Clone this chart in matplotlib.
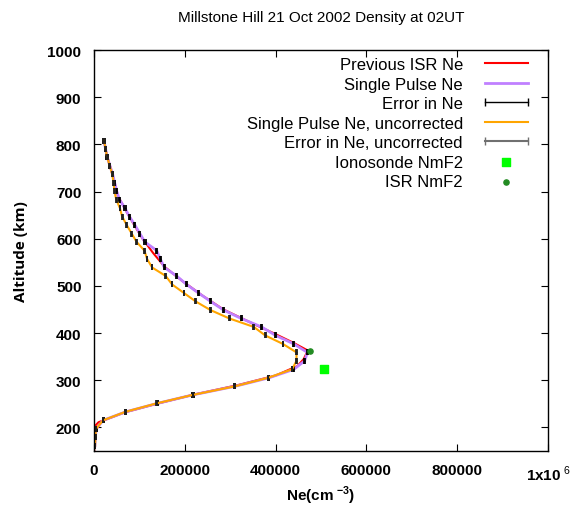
import matplotlib
matplotlib.use('Agg')
from matplotlib import pyplot as plt
from matplotlib.lines import Line2D

plt.rcParams['font.family'] = ['Liberation Sans', 'DejaVu Sans']
plt.rcParams['mathtext.fontset'] = 'custom'
plt.rcParams['mathtext.rm'] = 'Liberation Sans'
plt.rcParams['mathtext.bf'] = 'Liberation Sans:bold'

# Previous ISR Ne profile
isr_alt = [810, 780, 750, 720, 690, 660, 630, 600, 570, 540, 510, 480, 450, 420,
           400, 380, 363, 345, 330, 310, 290, 270, 250, 232, 218, 211, 205, 195, 180, 150]
isr_ne = [22000, 27500, 36500, 45000, 53000, 70000, 88000, 107000, 130000, 156000,
          195000, 238000, 285000, 350000, 395000, 438000, 471000, 462000, 448000, 400000,
          318000, 222000, 138000, 68000, 30000, 10000, 4000, 1000, 500, 500]

# Single pulse profiles
sp_alt = [808, 790, 773, 755, 737, 719, 701, 683, 665, 647, 629, 611, 593, 575, 557,
          539, 521, 503, 485, 467, 449, 431, 413, 395, 377, 359, 341, 323, 305, 287,
          269, 251, 233, 215, 197, 179, 161]
sp_ne = [22000, 25500, 29000, 35000, 41000, 45500, 50000, 56000, 68000, 78000, 90000,
         101000, 112000, 138000, 146000, 155000, 182000, 204000, 230000, 257000, 285000,
         324000, 369000, 400000, 440000, 470000, 464000, 440000, 385000, 310000, 218000,
         140000, 70000, 20000, 5000, 3000, 2000]
sp_err = [2000, 1500, 1500, 1200, 1200, 1500, 1200, 1200, 1500, 1200, 1200, 1200, 1500,
          1500, 1200, 1500, 1500, 1200, 1200, 1200, 1200, 1200, 1500, 1200, 1500, 1500,
          1500, 1500, 1200, 1200, 1200, 1200, 1200, 1000, 1000, 1000, 1000]

sp_unc_ne = [22000, 25500, 29000, 34500, 40000, 43000, 45000, 49000, 57000, 62000, 72000,
             83000, 94000, 111000, 117000, 128000, 158000, 172000, 198000, 224000, 256000,
             298000, 352000, 377000, 416000, 446000, 446000, 436000, 383000, 310000, 218000,
             138000, 69000, 20000, 4500, 3000, 2500]
sp_unc_err = [1500, 1000, 1000, 800, 800, 800, 800, 800, 800, 800, 800, 800,
              800, 800, 800, 800, 800, 800, 800, 800, 800, 800, 800, 800,
              800, 800, 800, 800, 800, 800, 800, 800, 800, 600, 600, 600, 600]

# NmF2 points
iono_ne, iono_alt = [507000], [324]
isr_nm_ne, isr_nm_alt = [476000], [363]

xticks = [0, 200000, 400000, 600000, 800000, 1000000]
xticklabels = ['0', '200000', '400000', '600000', '800000', r'1x10$^{\ 6}$']
yticks = [200, 300, 400, 500, 600, 700, 800, 900, 1000]

red = '#ff0000'
purple = '#c080ff'
orange = '#ffa500'
grey = '#707070'

fig = plt.figure(figsize=(5.76, 5.06), dpi=100)
ax = fig.add_axes([94 / 576, 1 - 452 / 506, 454 / 576, 401 / 506])

ax.plot(isr_ne, isr_alt, color=red, lw=1.5)
ax.plot(sp_ne, sp_alt, color=purple, lw=2)
ax.errorbar(sp_ne, sp_alt, xerr=sp_err, fmt='none', ecolor='black', elinewidth=1,
            capsize=2.5, capthick=1.3)
ax.plot(sp_unc_ne, sp_alt, color=orange, lw=1.5)
ax.errorbar(sp_unc_ne, sp_alt, xerr=sp_unc_err, fmt='none', ecolor='#202020', elinewidth=1,
            capsize=2.5, capthick=1.3)
iono = ax.scatter(iono_ne, iono_alt, marker='s', s=30, color='#00ff00', zorder=5)
isrpt = ax.scatter(isr_nm_ne, isr_nm_alt, marker='o', s=14, color='#228b22', zorder=5)

ax.set_xlim(0, 1000000)
ax.set_ylim(150, 1000)
ax.set_xticks(xticks)
ax.set_xticklabels(xticklabels)
ax.set_yticks(yticks)
ax.tick_params(direction='in', length=5, width=0.8, top=True, right=True,
               labelsize=11, pad=9)
for lab in ax.get_xticklabels() + ax.get_yticklabels():
    lab.set_fontweight('bold')
for s in ax.spines.values():
    s.set_linewidth(1)

ax.set_title('Millstone Hill 21 Oct 2002 Density at 02UT', fontsize=11, pad=21)
ax.set_xlabel(r'Ne(cm$^{\ \mathbf{-3}}$)', fontsize=11, fontweight='bold', labelpad=1)
ax.set_ylabel('Altitude (km)', fontsize=11, fontweight='bold', labelpad=14,
              family=['Open Sans', 'DejaVu Sans'])

handles = [
    Line2D([], [], color=red, lw=1.5),
    Line2D([], [], color=purple, lw=2),
    Line2D([], [], color='black', lw=1, marker='|', markersize=6, markeredgewidth=1),
    Line2D([], [], color=orange, lw=1.5),
    Line2D([], [], color=grey, lw=1.5, marker='|', markersize=6, markeredgewidth=1),
    iono,
    isrpt,
]
labels = ['Previous ISR Ne', 'Single Pulse Ne', 'Error in Ne',
          'Single Pulse Ne, uncorrected', 'Error in Ne, uncorrected',
          'Ionosonde NmF2', 'ISR NmF2']
ax.legend(handles, labels, loc='upper right', bbox_to_anchor=(0.985, 1.003),
          frameon=False, markerfirst=False, numpoints=2, scatterpoints=1, fontsize=12,
          handlelength=3.2, handletextpad=1.0, labelspacing=0.27, borderpad=0)

fig.savefig('out.png', dpi=100)
